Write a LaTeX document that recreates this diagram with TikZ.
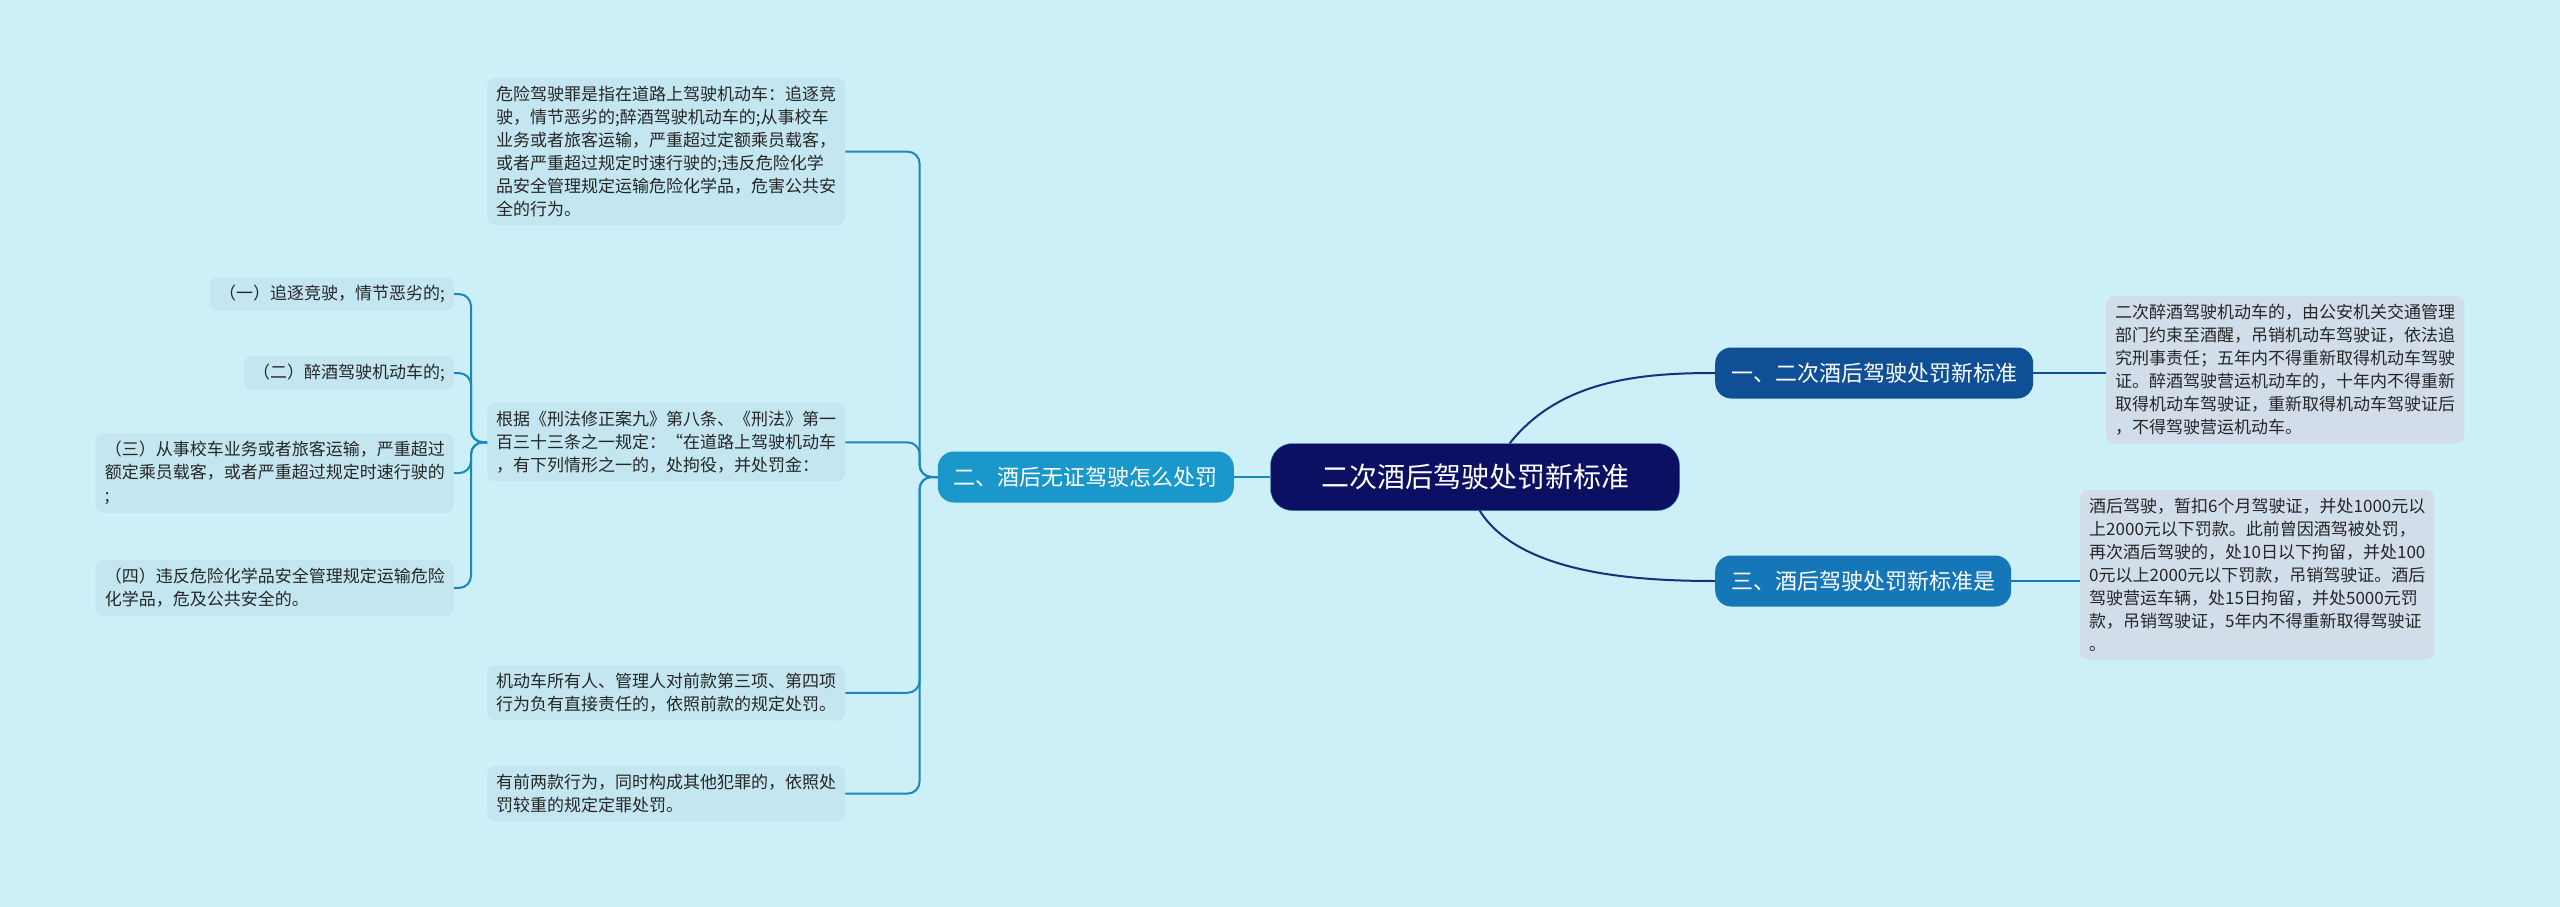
\documentclass[tikz,border=0pt]{standalone}
\usepackage{fontspec}
\setmainfont{Noto Sans CJK SC}
\usepackage{xcolor}
\definecolor{bgc}{HTML}{CDEFF7}
\definecolor{leafc}{HTML}{C3E6F1}
\definecolor{leafr}{HTML}{D2DDEA}
\definecolor{linec}{HTML}{1A88BA}
\definecolor{rootc}{HTML}{0B1063}
\definecolor{bone}{HTML}{0E4F96}
\definecolor{btwo}{HTML}{1A98CB}
\definecolor{bthree}{HTML}{1677B8}

\begin{document}
\begin{tikzpicture}[x=1pt,y=-1pt,
  leaf/.style={fill=leafc,rounded corners=8pt,inner xsep=9pt,inner ysep=8pt,align=left,
    font=\fontsize{17}{23}\selectfont,text=black!85},
  rleaf/.style={leaf,fill=leafr},
  branch/.style={rounded corners=16pt,text=white,inner xsep=16pt,minimum height=51pt,
    font=\fontsize{22}{26}\selectfont},
  link/.style={draw=linec,line width=2pt,rounded corners=12pt}]
\fill[bgc] (0,0) rectangle (2560,907);
\useasboundingbox (0,0) rectangle (2560,907);
\node[style={fill=rootc,draw=linec,rounded corners=22pt,text=white,minimum width=409pt,minimum height=67pt,font=\fontsize{28}{32}\selectfont}] (c) at (1475,477) {二次酒后驾驶处罚新标准};
\node[branch,fill=bone,anchor=west] (b1) at (1715,373) {一、二次酒后驾驶处罚新标准};
\node[branch,fill=bthree,anchor=west] (b3) at (1715,581) {三、酒后驾驶处罚新标准是};
\node[branch,fill=btwo,anchor=east] (b2) at (1234,477) {二、酒后无证驾驶怎么处罚};
\node[rleaf,anchor=north west] (r1) at (2106,296) {二次醉酒驾驶机动车的，由公安机关交通管理\\部门约束至酒醒，吊销机动车驾驶证，依法追\\究刑事责任；五年内不得重新取得机动车驾驶\\证。醉酒驾驶营运机动车的，十年内不得重新\\取得机动车驾驶证，重新取得机动车驾驶证后\\，不得驾驶营运机动车。};
\node[rleaf,anchor=north west] (r3) at (2080,490) {酒后驾驶，暂扣6个月驾驶证，并处1000元以\\上2000元以下罚款。此前曾因酒驾被处罚，\\再次酒后驾驶的，处10日以下拘留，并处100\\0元以上2000元以下罚款，吊销驾驶证。酒后\\驾驶营运车辆，处15日拘留，并处5000元罚\\款，吊销驾驶证，5年内不得重新取得驾驶证\\。};
\node[leaf,anchor=north west] (l1) at (487,78) {危险驾驶罪是指在道路上驾驶机动车：追逐竞\\驶，情节恶劣的;醉酒驾驶机动车的;从事校车\\业务或者旅客运输，严重超过定额乘员载客，\\或者严重超过规定时速行驶的;违反危险化学\\品安全管理规定运输危险化学品，危害公共安\\全的行为。};
\node[leaf,anchor=north west] (l2) at (487,403) {根据《刑法修正案九》第八条、《刑法》第一\\百三十三条之一规定：“在道路上驾驶机动车\\，有下列情形之一的，处拘役，并处罚金：};
\node[leaf,anchor=north west] (l3) at (487,665) {机动车所有人、管理人对前款第三项、第四项\\行为负有直接责任的，依照前款的规定处罚。};
\node[leaf,anchor=north west] (l4) at (487,766) {有前两款行为，同时构成其他犯罪的，依照处\\罚较重的规定定罪处罚。};
\node[leaf,anchor=north east] (s1) at (454,277) {（一）追逐竞驶，情节恶劣的;};
\node[leaf,anchor=north east] (s2) at (454,356) {（二）醉酒驾驶机动车的;};
\node[leaf,anchor=north east] (s3) at (454,433) {（三）从事校车业务或者旅客运输，严重超过\\额定乘员载客，或者严重超过规定时速行驶的\\;};
\node[leaf,anchor=north east] (s4) at (454,560) {（四）违反危险化学品安全管理规定运输危险\\化学品，危及公共安全的。};
% root to branches
\draw[draw=rootc!70!linec,line width=2pt] (c.north east) ++(-170,0) .. controls (1560,380) and (1640,373) .. (b1.west);
\draw[draw=rootc!70!linec,line width=2pt] (c.south east) ++(-200,0) .. controls (1520,575) and (1640,581) .. (b3.west);
\draw[link] (c.west) -- (b2.east);
\draw[draw=bone,line width=2pt] (b1.east) -- (r1.west |- b1.east);
\draw[draw=bthree,line width=2pt] (b3.east) -- (r3.west |- b3.east);
% branch two
\foreach \n in {l1,l2,l3,l4}
  \draw[link] (b2.west) -- ++(-18,0) |- (\n.east);
\foreach \n in {s1,s2,s3,s4}
  \draw[link] (l2.west) -- ++(-16,0) |- (\n.east);
\end{tikzpicture}
\end{document}
